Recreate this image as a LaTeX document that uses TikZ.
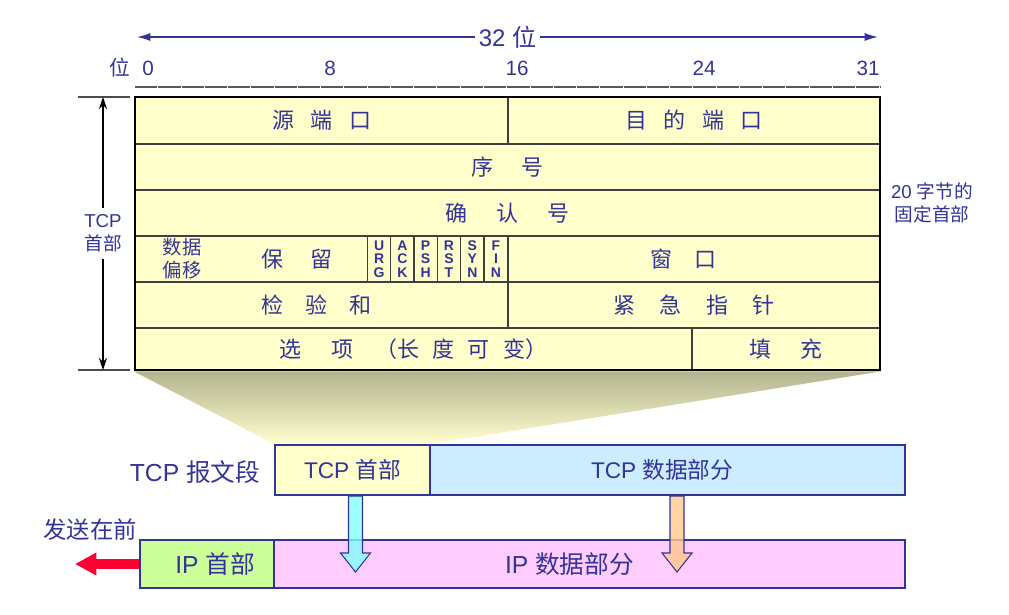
\documentclass[tikz,border=0pt]{standalone}
\usepackage{fontspec}
\setmainfont{Liberation Sans}
\newfontfamily\cjk{Noto Sans CJK SC}
\usetikzlibrary{fit,arrows.meta,backgrounds}

\definecolor{ink}{RGB}{51,51,153}
\definecolor{hdrfill}{RGB}{255,255,204}
\definecolor{datafill}{RGB}{204,236,255}
\definecolor{iphfill}{RGB}{204,255,153}
\definecolor{ipdfill}{RGB}{255,204,255}
\definecolor{sendred}{RGB}{255,0,51}
\definecolor{shadetop}{RGB}{179,179,143}
\definecolor{cyanarrow}{RGB}{128,255,255}
\definecolor{orangearrow}{RGB}{255,200,140}

\newcommand\gap[1]{\hspace{#1em}}

\begin{document}
\begin{tikzpicture}[x=0.75pt,y=-0.75pt,
    cell/.style={draw=black!75,line width=0.9pt,fill=hdrfill,inner sep=0pt},
    celltext/.style={text=ink,inner sep=0pt,font=\cjk\fontsize{16.5}{19}\selectfont},
    flagtext/.style={text=ink,inner sep=0pt,align=center,font=\bfseries\fontsize{10.5}{10}\selectfont},
    seg/.style={draw=ink,line width=1.5pt,inner sep=0pt},
    segtext/.style={text=ink,inner sep=0pt,font=\fontsize{17}{20}\selectfont},
    bitnum/.style={text=ink,font=\fontsize{15.5}{18}\selectfont},
    note/.style={text=ink,align=center,font=\fontsize{14}{17}\selectfont},
    blockarrow/.style={draw=ink,line width=0.8pt,fill opacity=0.8}]

\useasboundingbox (0,0) rectangle (1009,614);

% bit ruler
\coordinate (spanL) at (137,37);
\coordinate (spanR) at (878,37);
\draw[ink,line width=0.9pt,{Latex[length=10pt,width=6pt]}-{Latex[length=10pt,width=6pt]}]
  (spanL) -- node[fill=white,inner sep=3pt,text=ink,font=\fontsize{18}{20}\selectfont] (spanlabel) {32 {\cjk 位}} (spanR);

\node[bitnum] (bitword) at (120,68) {\cjk 位};
\node[bitnum] (b0) at (148,68) {0};
\node[bitnum] (b8) at (330,68) {8};
\node[bitnum] (b16) at (517,68) {16};
\node[bitnum] (b24) at (704,68) {24};
\node[bitnum] (b31) at (868,68) {31};

\coordinate (rulerL) at (135,87);
\coordinate (rulerR) at (880,87);
\draw[black!65,line width=1.1pt,dash pattern=on 16.7pt off 0.75pt] (rulerL) -- (rulerR);

% header fields
\node[cell,fit={(135,97) (508,144)},label={[celltext]center:源\gap{.75}端\gap{.75}口}] (srcport) {};
\node[cell,fit={(508,97) (880,144)},label={[celltext]center:目\gap{.75}的\gap{.75}端\gap{.75}口}] (dstport) {};
\node[cell,fit={(135,144) (880,190)},label={[celltext]center:序\gap{1.3}号}] (seqno) {};
\node[cell,fit={(135,190) (880,236)},label={[celltext]center:确\gap{1.3}认\gap{1.3}号}] (ackno) {};

\node[cell,fit={(135,236) (367.5,282)}] (offrsv) {};
\node[text=ink,align=center,font=\cjk\fontsize{14.5}{17}\selectfont] (offset) at (182,259) {数据\\偏移};
\node[celltext] (reserved) at (297,259) {保\gap{1.2}留};

\node[cell,fit={(367.5,236) (390.8,282)},label={[flagtext]center:U\\R\\G}] (urg) {};
\node[cell,fit={(390.8,236) (414,282)},label={[flagtext]center:A\\C\\K}] (ack) {};
\node[cell,fit={(414,236) (437.3,282)},label={[flagtext]center:P\\S\\H}] (psh) {};
\node[cell,fit={(437.3,236) (460.7,282)},label={[flagtext]center:R\\S\\T}] (rst) {};
\node[cell,fit={(460.7,236) (484,282)},label={[flagtext]center:S\\Y\\N}] (syn) {};
\node[cell,fit={(484,236) (508,282)},label={[flagtext]center:F\\I\\N}] (fin) {};
\node[cell,fit={(508,236) (880,282)},label={[celltext,xshift=-8pt]center:窗\gap{1}口}] (window) {};

\node[cell,fit={(135,282) (508,328)},label={[celltext,xshift=-4pt]center:检\gap{1}验\gap{1}和}] (checksum) {};
\node[cell,fit={(508,282) (880,328)},label={[celltext]center:紧\gap{1.1}急\gap{1.1}指\gap{1.1}针}] (urgent) {};
\node[cell,fit={(135,328) (692,370)},label={[celltext]center:选\gap{1.35}项\gap{1}（长\gap{.6}度\gap{.6}可\gap{.6}变）}] (options) {};
\node[cell,fit={(692,328) (880,370)},label={[celltext]center:填\gap{1.35}充}] (padding) {};

\node[draw=black,line width=2pt,inner sep=0pt,fit={(135,97) (880,370)}] (tcphead) {};

% left and right notes
\coordinate (dimtop) at (103,97);
\coordinate (dimbot) at (103,370);
\draw[black!70,line width=0.8pt] (dimtop) ++(-25,0) -- ++(52,0);
\draw[black!70,line width=0.8pt] (dimbot) ++(-25,0) -- ++(52,0);
\draw[black,line width=0.8pt,{Stealth[length=9pt,width=6pt]}-{Stealth[length=9pt,width=6pt]}]
  (dimtop) -- node[fill=white,note,inner sep=5pt] (hdrlabel) {TCP\\{\cjk 首部}} (dimbot);

\node[note] (fixedlabel) at (932,203) {20 {\cjk 字节的}\\{\cjk 固定首部}};

% segment and datagram
\node[seg,fill=hdrfill,fit={(275,445) (430,495)},label={[segtext]center:TCP {\cjk 首部}}] (tcphdr) {};
\node[seg,fill=datafill,fit={(430,445) (905,495)},label={[segtext,xshift=-4pt]center:TCP {\cjk 数据部分}}] (tcpdata) {};
\node[text=ink,font=\fontsize{18.5}{22}\selectfont] (seglabel) at (195,472) {TCP {\cjk 报文段}};

\node[seg,fill=iphfill,fit={(140,540) (274,588)},label={[segtext,xshift=6pt,font=\fontsize{18.5}{22}\selectfont]center:IP {\cjk 首部}}] (iphdr) {};
\node[seg,fill=ipdfill,fit={(274,540) (905,588)},label={[segtext,xshift=-15pt,font=\fontsize{18.5}{22}\selectfont]center:IP {\cjk 数据部分}}] (ipdata) {};

\begin{scope}[on background layer]
\shade[top color=shadetop,bottom color=hdrfill!95!white]
  (tcphead.south west) -- (tcphead.south east) -- (tcphdr.north east) -- (tcphdr.north west) -- cycle;
\end{scope}

\draw[blockarrow,fill=cyanarrow] (tcphdr.south) ++(-4,0) -- ++(0,57) -- ++(-8,0) -- ++(15,19)
  -- ++(15,-19) -- ++(-8,0) -- ++(0,-57) -- cycle;
\draw[blockarrow,fill=orangearrow] (tcpdata.south) ++(2.5,0) -- ++(0,57) -- ++(-8,0) -- ++(15,19)
  -- ++(15,-19) -- ++(-8,0) -- ++(0,-57) -- cycle;

\node[text=ink,font=\cjk\fontsize{17.5}{20}\selectfont] (sendfirst) at (90,530) {发送在前};
\coordinate (sendtip) at (75,564);
\draw[sendred,line width=8pt,-{Triangle[length=16pt,width=16pt]}] (iphdr.west) -- (sendtip);

\end{tikzpicture}
\end{document}
